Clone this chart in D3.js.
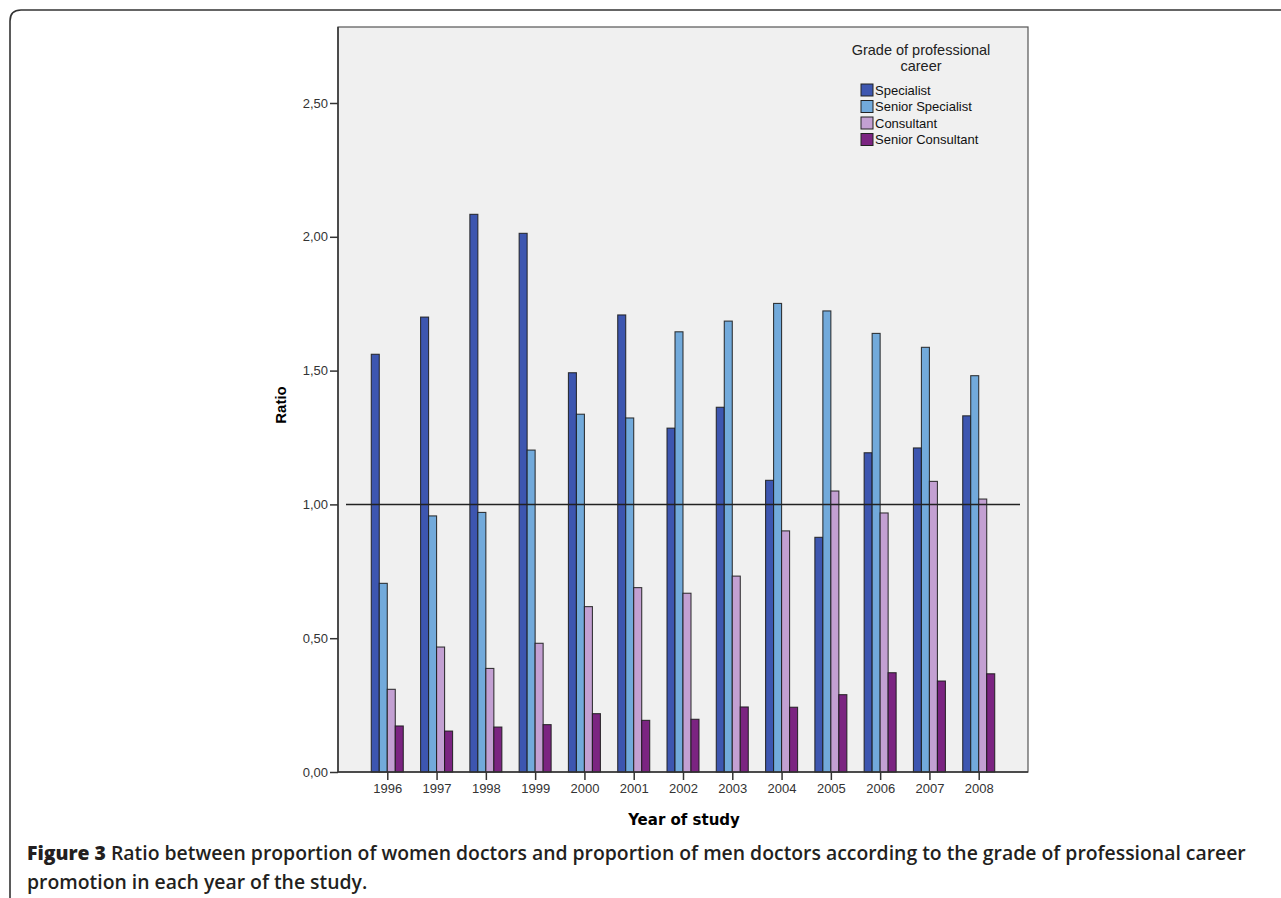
<!DOCTYPE html>
<html>
<head>
<meta charset="utf-8">
<script src="https://cdn.jsdelivr.net/npm/d3@7"></script>
<style>
html,body{margin:0;padding:0;background:#fff;}
svg{display:block;}
</style>
</head>
<body>
<svg id="chart" width="1281" height="898"></svg>
<script>
// ---- data ----
const years = ["1996","1997","1998","1999","2000","2001","2002","2003","2004","2005","2006","2007","2008"];
const seriesNames = ["Specialist","Senior Specialist","Consultant","Senior Consultant"];
const specialist       = [1.561,1.700,2.084,2.013,1.492,1.708,1.285,1.363,1.090,0.877,1.193,1.211,1.331];
const seniorSpecialist = [0.705,0.957,0.970,1.203,1.337,1.323,1.645,1.685,1.751,1.723,1.639,1.587,1.481];
const consultant       = [0.309,0.467,0.387,0.481,0.618,0.689,0.668,0.732,0.901,1.050,0.968,1.086,1.020];
const seniorConsultant = [0.172,0.153,0.168,0.177,0.218,0.193,0.197,0.243,0.242,0.289,0.371,0.340,0.367];
const yTicks = [0,0.5,1.0,1.5,2.0,2.5];
const referenceValue = 1.0;
const legendTitle = ["Grade of professional","career"];
const xTitle = "Year of study";
const yTitle = "Ratio";
const captionBold = "Figure 3";
const captionLine1 = " Ratio between proportion of women doctors and proportion of men doctors according to the grade of professional career";
const captionLine2 = "promotion in each year of the study.";

const seriesValues = [specialist, seniorSpecialist, consultant, seniorConsultant];
const colors = ["#3d56b0","#72aadb","#c3a0d2","#7b2481"];

// ---- layout ----
const svg = d3.select("#chart");
const L = 338, R = 1028, T = 27, B = 772;

// outer frame (rounded top-left corner)
svg.append("path")
  .attr("d", `M10,900 L10,21 Q10,10 21,10 L1290,10`)
  .attr("fill","none").attr("stroke","#333").attr("stroke-width",1.6);

// plot background
svg.append("rect").attr("x",L).attr("y",T).attr("width",R-L).attr("height",B-T)
  .attr("fill","#f0f0f0").attr("stroke","#555").attr("stroke-width",1.2);

const x = d3.scalePoint().domain(years).range([L,R]).padding(1);
const inner = d3.scaleBand().domain(seriesNames).range([-16,16]).paddingInner(0);
const y = d3.scaleLinear().domain([0,2.784]).range([B,T]);

// bars
const rows = [];
seriesNames.forEach((s,si)=>{
  years.forEach((yr,yi)=>rows.push({s, si, yr, v: seriesValues[si][yi]}));
});
svg.append("g").selectAll("rect").data(rows).enter().append("rect")
  .attr("x", d=>x(d.yr)+inner(d.s))
  .attr("y", d=>y(d.v))
  .attr("width", inner.bandwidth())
  .attr("height", d=>y(0)-y(d.v))
  .attr("fill", d=>colors[d.si])
  .attr("stroke","#1a1a1a").attr("stroke-width",1.1).attr("stroke-opacity",0.85);

// reference line
svg.append("line").attr("x1",L+8).attr("x2",R-8)
  .attr("y1",y(referenceValue)).attr("y2",y(referenceValue))
  .attr("stroke","#222").attr("stroke-width",1.5);

// axes
const fmt = v => d3.format(".2f")(v).replace(".",",");
const yAxis = svg.append("g").attr("transform",`translate(${L},0)`)
  .call(d3.axisLeft(y).tickValues(yTicks).tickFormat(fmt).tickSize(8).tickPadding(2));
const xAxis = svg.append("g").attr("transform",`translate(0,${B})`)
  .call(d3.axisBottom(x).tickSize(8).tickPadding(4));
[yAxis,xAxis].forEach(a=>{
  a.select(".domain").attr("stroke","#333").attr("stroke-width",1.5);
  a.selectAll(".tick line").attr("stroke","#333").attr("stroke-width",1.5);
  a.selectAll("text").attr("font-family","Arial, 'Liberation Sans', sans-serif")
    .attr("font-size",13).attr("fill","#333");
});
xAxis.select(".domain").attr("d",`M${L},0H${R}`);
yAxis.select(".domain").attr("d",`M0,${B}V${T}`);

// axis titles
svg.append("text").attr("transform",`translate(286,405) rotate(-90)`)
  .attr("text-anchor","middle")
  .attr("font-family","Arial, 'Liberation Sans', sans-serif").attr("font-weight","bold")
  .attr("font-size",15).attr("fill","#000").text(yTitle);
svg.append("text").attr("x",684).attr("y",825)
  .attr("text-anchor","middle")
  .attr("font-family","'DejaVu Sans', Verdana, sans-serif").attr("font-weight","bold")
  .attr("font-size",15).attr("fill","#000").text(xTitle);

// legend
const lg = svg.append("g");
legendTitle.forEach((t,i)=>{
  lg.append("text").attr("x",921).attr("y",55+i*16).attr("text-anchor","middle")
    .attr("font-family","Arial, 'Liberation Sans', sans-serif").attr("font-size",14.5)
    .attr("fill","#222").text(t);
});
seriesNames.forEach((s,i)=>{
  const cy = 90 + i*16.5;
  lg.append("rect").attr("x",861).attr("y",cy-6).attr("width",12).attr("height",12)
    .attr("fill",colors[i]).attr("stroke","#222").attr("stroke-width",1);
  lg.append("text").attr("x",875).attr("y",cy+4.5)
    .attr("font-family","Arial, 'Liberation Sans', sans-serif").attr("font-size",13)
    .attr("fill","#111").text(s);
});

// caption
const cap1 = svg.append("text").attr("x",27).attr("y",860)
  .attr("font-family","'Open Sans', 'Noto Sans', sans-serif").attr("font-size",18.5).attr("fill","#231f20");
cap1.append("tspan").attr("font-weight",800).text(captionBold);
cap1.append("tspan").attr("font-weight",600).text(captionLine1);
const cap2 = svg.append("text").attr("x",27).attr("y",889)
  .attr("font-family","'Open Sans', 'Noto Sans', sans-serif").attr("font-size",18.5)
  .attr("font-weight",600).attr("fill","#231f20").text(captionLine2);
// fit caption line 1 width to reference (~1220px)
const w = cap1.node().getComputedTextLength();
const fs = 18.5*1220/w;
cap1.attr("font-size",fs); cap2.attr("font-size",fs);
</script>
</body>
</html>
